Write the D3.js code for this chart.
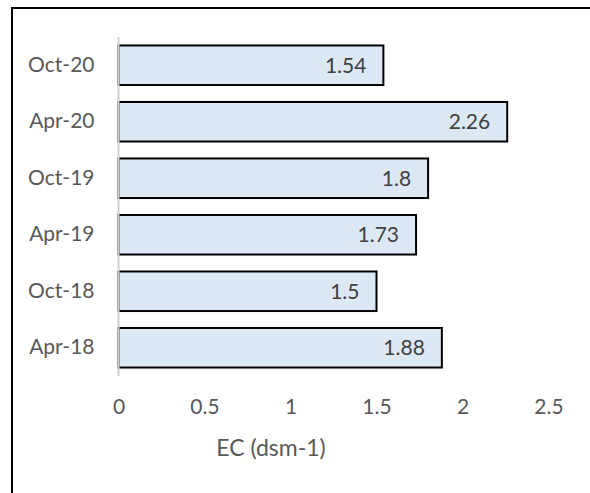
<!DOCTYPE html>
<html>
<head>
<meta charset="utf-8">
<script src="https://cdn.jsdelivr.net/npm/d3@7"></script>
<style>
  body { margin: 0; background: #fff; }
  svg { display: block; font-family: Lato, "Noto Sans", sans-serif; }
</style>
</head>
<body>
<div id="chart"></div>
<script>
// chart data
var categories = ["Oct-20", "Apr-20", "Oct-19", "Apr-19", "Oct-18", "Apr-18"];
var values = [1.54, 2.26, 1.8, 1.73, 1.5, 1.88];
var xTicks = [0, 0.5, 1, 1.5, 2, 2.5];
var xTitle = "EC (dsm-1)";

var width = 590, height = 493;

var svg = d3.select("#chart")
    .append("svg")
    .attr("width", width)
    .attr("height", height);

// outer frame, right and bottom edges fall off the canvas
svg.append("rect")
    .attr("x", 12)
    .attr("y", 8)
    .attr("width", width + 20)
    .attr("height", height + 20)
    .attr("fill", "none")
    .attr("stroke", "#000")
    .attr("stroke-width", 2);

var x = d3.scaleLinear()
    .domain([0, 2.5])
    .range([118.5, 548.5]);

var y = d3.scaleBand()
    .domain(categories)
    .range([37, 376])
    .paddingInner(0.3)
    .paddingOuter(0.15);

var data = categories.map(function (c, i) { return { 'X': c, 'Y': values[i] }; });

// bars
svg.selectAll(".bar")
    .data(data)
    .enter()
    .append("rect")
    .attr("class", "bar")
    .attr("x", x(0))
    .attr("y", function (d) { return y(d.X); })
    .attr("width", function (d) { return x(d.Y) - x(0); })
    .attr("height", y.bandwidth())
    .attr("fill", "#dde8f5")
    .attr("stroke", "#000")
    .attr("stroke-width", 2);

// vertical axis line
svg.append("line")
    .attr("x1", x(0))
    .attr("x2", x(0))
    .attr("y1", 37)
    .attr("y2", 376)
    .attr("stroke", "#d0d0d0")
    .attr("stroke-width", 2);

// value labels, inside end
svg.selectAll(".val")
    .data(data)
    .enter()
    .append("text")
    .attr("class", "val")
    .attr("x", function (d) { return x(d.Y) - 17; })
    .attr("y", function (d) { return y(d.X) + y.bandwidth() / 2; })
    .attr("dy", ".35em")
    .style("text-anchor", "end")
    .style("font-size", "21px")
    .attr("fill", "#404040")
    .text(function (d) { return d.Y; });

// category labels
var yAxis = svg.append("g")
    .attr("transform", "translate(" + x(0) + ",0)")
    .call(d3.axisLeft(y).tickSize(0).tickPadding(24));
yAxis.select(".domain").remove();
yAxis.selectAll("text")
    .style("font-size", "21px")
    .style("font-family", "Lato, 'Noto Sans', sans-serif")
    .attr("fill", "#595959");

// x axis tick labels
var xAxis = svg.append("g")
    .attr("transform", "translate(0,376)")
    .call(d3.axisBottom(x).tickValues(xTicks).tickSize(0).tickPadding(23)
        .tickFormat(function (d) { return d; }));
xAxis.select(".domain").remove();
xAxis.selectAll("text")
    .style("font-size", "21px")
    .style("font-family", "Lato, 'Noto Sans', sans-serif")
    .attr("fill", "#595959");

// axis title
svg.append("text")
    .attr("x", 271)
    .attr("y", 456)
    .style("text-anchor", "middle")
    .style("font-size", "23px")
    .attr("fill", "#595959")
    .text(xTitle);
</script>
</body>
</html>
